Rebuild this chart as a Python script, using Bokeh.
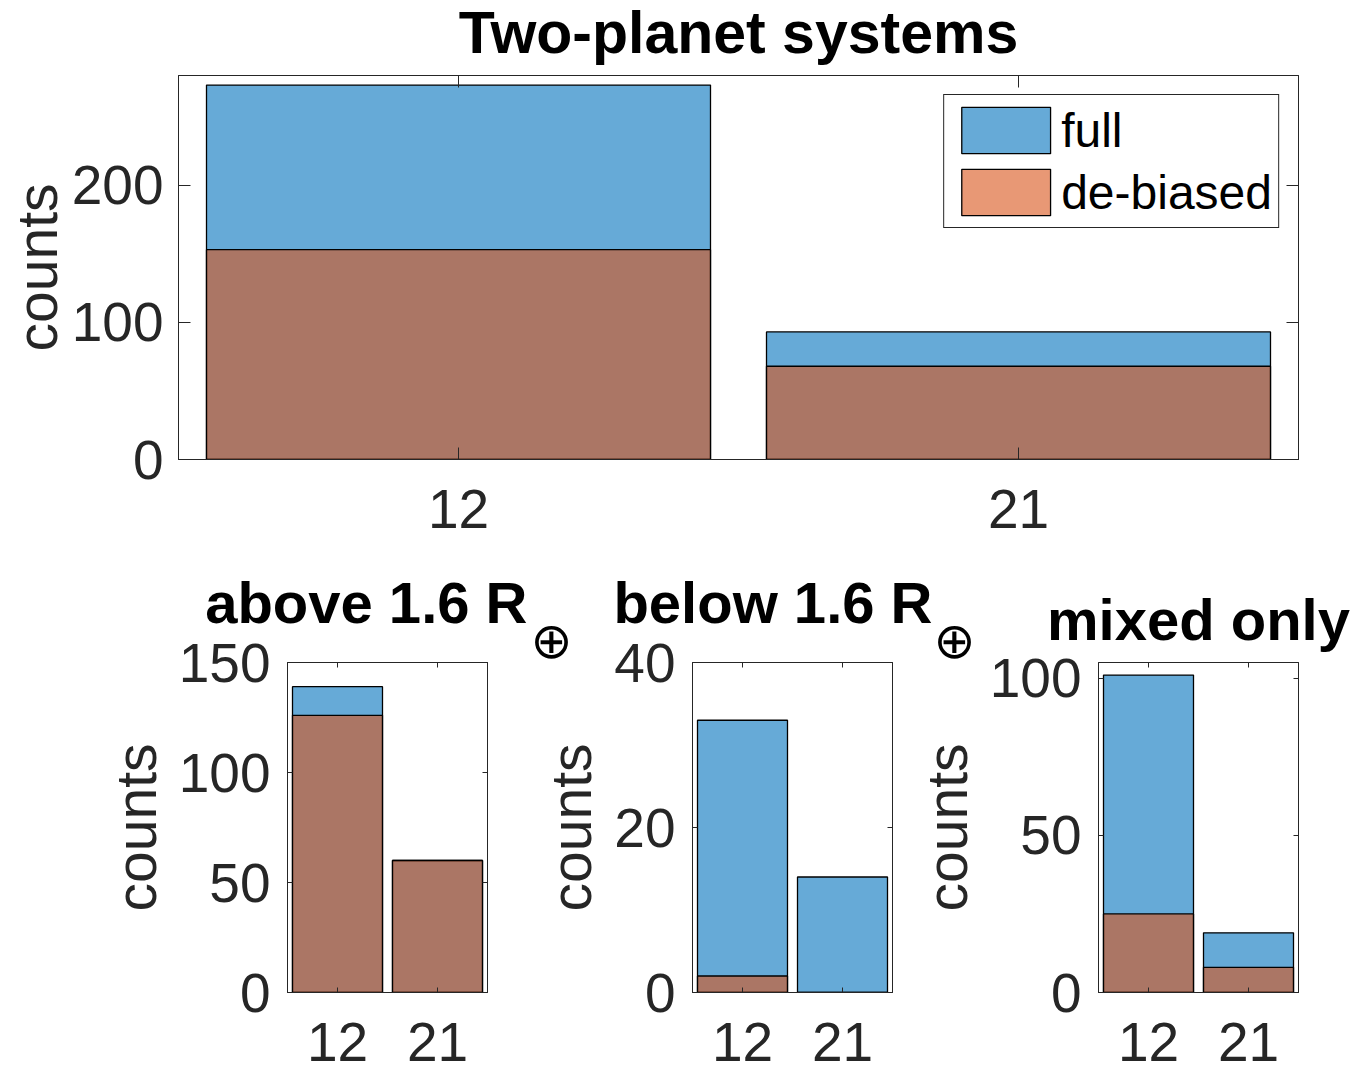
from bokeh.plotting import figure
from bokeh.models import (Range1d, FactorRange, LinearAxis, CategoricalAxis,
                          FixedTicker, Legend, Title)
from bokeh.layouts import column, row
from bokeh.embed import file_html
from bokeh.resources import INLINE

# ---------------- data ----------------
categories = ["12", "21"]

full_all = [273, 93]
debiased_all = [153, 68]

full_above = [139, 60]
debiased_above = [126, 60]

full_below = [33, 14]
debiased_below = [2, 0]

full_mixed = [101, 19]
debiased_mixed = [25, 8]

ymax_all, yticks_all = 280, [0, 100, 200]
ymax_above, yticks_above = 150, [0, 50, 100, 150]
ymax_below, yticks_below = 40, [0, 20, 40]
ymax_mixed, yticks_mixed = 105, [0, 50, 100]

main_title = "Two-planet systems"
sub_titles = ["above 1.6 R", "below 1.6 R", "mixed only"]
sub_script = "\u2295"

# ---------------- style ----------------
BLUE = "#0072BD"
ORANGE = "#D95319"
AX = "#262626"
FONT = "Liberation Sans"
TICK_FS = "55px"
LABEL_FS = "57px"
TITLE_FS = "58px"
SUB_FS = "50px"


def make_panel(full, deb, ymax, yticks, fw, fh, bl, br, bt, bb, tick_len,
               ytick_standoff=17, ylab_standoff=8):
    p = figure(x_range=FactorRange(factors=categories, range_padding=0),
               y_range=Range1d(0, ymax),
               frame_width=fw, frame_height=fh,
               min_border_left=bl, min_border_right=br,
               min_border_top=bt, min_border_bottom=bb,
               x_axis_location=None, y_axis_location=None,
               output_backend="svg", toolbar_location=None)
    p.grid.visible = False
    p.outline_line_color = AX
    p.outline_line_width = 1

    yl = LinearAxis(ticker=FixedTicker(ticks=yticks))
    yr = LinearAxis(ticker=FixedTicker(ticks=yticks),
                    major_label_overrides={t: "" for t in yticks})
    xb = CategoricalAxis()
    xa = CategoricalAxis(major_label_overrides={c: "" for c in categories})
    p.add_layout(yl, "left")
    p.add_layout(yr, "right")
    p.add_layout(xb, "below")
    p.add_layout(xa, "above")
    for ax in (yl, yr, xb, xa):
        ax.axis_line_color = AX
        ax.axis_line_width = 1
        ax.major_tick_line_color = AX
        ax.major_tick_line_width = 1
        ax.major_tick_in = tick_len
        ax.major_tick_out = 0
        ax.minor_tick_line_color = None
        ax.major_label_text_font = FONT
        ax.major_label_text_font_size = TICK_FS
        ax.major_label_text_color = AX
    for ax in (yr, xa):
        ax.major_label_text_font_size = "1px"
        ax.major_label_standoff = 0
    yl.major_label_standoff = ytick_standoff
    xb.major_label_standoff = 30
    yl.axis_label = "counts"
    yl.axis_label_text_font = FONT
    yl.axis_label_text_font_size = LABEL_FS
    yl.axis_label_text_font_style = "normal"
    yl.axis_label_text_color = AX
    yl.axis_label_text_line_height = 1.0
    yl.axis_label_standoff = ylab_standoff

    r1 = p.vbar(x=categories, top=full, width=0.9, fill_color=BLUE, fill_alpha=0.6,
                line_color="black", line_width=1.3)
    r2 = p.vbar(x=categories, top=deb, width=0.9, fill_color=ORANGE, fill_alpha=0.6,
                line_color="black", line_width=1.3)
    p.border_fill_alpha = 0
    return p, r1, r2


def add_titles(p, text, subscript, sub_offset=-85):
    """Title and, optionally, a lowered subscript symbol to its right."""
    if subscript:
        p.add_layout(Title(text=sub_script, align="right", offset=sub_offset, standoff=-22,
                           text_font="DejaVu Sans", text_font_size=SUB_FS,
                           text_font_style="normal", text_color="black"), "above")
        p.add_layout(Title(text=text, align="right", offset=-40, standoff=-28,
                           text_font=FONT, text_font_size=TITLE_FS,
                           text_font_style="bold", text_color="black"), "above")
    else:
        p.title.text = text
        p.title.align = "center"
        p.title.standoff = 13
        p.title.text_font = FONT
        p.title.text_font_size = TITLE_FS
        p.title.text_font_style = "bold"
        p.title.text_color = "black"


# ---------------- top panel ----------------
top, t1, t2 = make_panel(full_all, debiased_all, ymax_all, yticks_all,
                         1120, 384, 178, 56, 85, 101, 12,
                         ytick_standoff=15, ylab_standoff=0)
top.margin = (-10, 0, 0, 0)
top.title.text = main_title
top.title.align = "center"
top.title.text_font = FONT
top.title.text_font_size = "59px"
top.title.text_font_style = "bold"
top.title.text_color = "black"
top.title.standoff = 12

legend = Legend(items=[("full", [t1]), ("de-biased", [t2])], location="top_right")
legend.label_text_font = FONT
legend.label_text_font_size = "48px"
legend.label_text_color = "black"
legend.glyph_width = 111
legend.glyph_height = 58
legend.label_standoff = -3
legend.padding = 6
legend.spacing = 4
legend.margin = 19
legend.border_line_color = AX
legend.border_line_alpha = 1
legend.border_line_width = 1
legend.background_fill_color = "white"
legend.background_fill_alpha = 1
top.add_layout(legend)

# ---------------- bottom panels ----------------
p1, _, _ = make_panel(full_above, debiased_above, ymax_above, yticks_above,
                      200, 330, 287, 93, 102, 73, 5)
add_titles(p1, sub_titles[0], True, sub_offset=-85)

p2, _, _ = make_panel(full_below, debiased_below, ymax_below, yticks_below,
                      200, 330, 172, 100, 102, 73, 5)
add_titles(p2, sub_titles[1], True, sub_offset=-83)
p2.margin = (0, 0, 0, -60)

p3, _, _ = make_panel(full_mixed, debiased_mixed, ymax_mixed, yticks_mixed,
                      200, 330, 198, 56, 102, 73, 5)
add_titles(p3, sub_titles[2], False)
p3.margin = (0, 0, 0, -92)

layout = column(top, row(p1, p2, p3))

open("out.html", "w").write(file_html(layout, INLINE))
